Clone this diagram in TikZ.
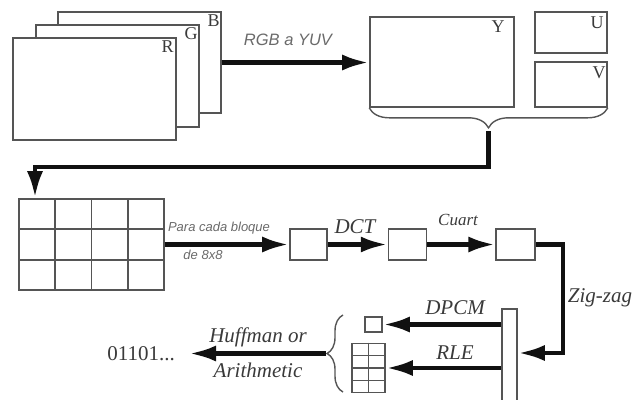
\documentclass[tikz,border=0pt]{standalone}
\usepackage{fontspec}
\setmainfont{Liberation Serif}
\setsansfont{Liberation Sans}
\usepackage{tikz}
\usetikzlibrary{arrows.meta,positioning,calc,decorations.pathreplacing}
\definecolor{jpegInk}{HTML}{111111}
\definecolor{jpegFrame}{HTML}{555555}
\definecolor{jpegText}{HTML}{3A3A3A}
\definecolor{jpegNote}{HTML}{6A6A6A}
\tikzset{
  plane/.style={
    rectangle,
    draw=jpegFrame,
    fill=white,
    line width=1.6pt,
    inner sep=0pt
  },
  cell/.style={
    draw=jpegFrame,
    line width=1.6pt
  },
  chan/.style={
    anchor=north east,
    inner sep=0pt,
    text=jpegText,
    font=\fontsize{18}{20}\selectfont
  },
  stage/.style={
    inner sep=1pt,
    text=jpegText,
    font=\fontsize{21}{23}\selectfont\itshape
  },
  note/.style={
    inner sep=1pt,
    text=jpegNote,
    font=\sffamily\itshape\fontsize{16.5}{18}\selectfont
  },
  smallnote/.style={
    inner sep=1pt,
    text=jpegNote,
    font=\sffamily\itshape\fontsize{13}{15}\selectfont
  },
  flow/.style={
    -{Latex[length=27pt,width=16pt]},
    line width=4.8pt,
    draw=jpegInk
  },
  curly/.style={
    decorate,
    decoration={brace,amplitude=#1},
    draw=jpegFrame,
    line width=1.4pt
  }
}
\begin{document}
\begin{tikzpicture}[x=1pt,y=-1pt]
  \useasboundingbox (0,0) rectangle (634,399);
  % colour planes
  \node[plane,minimum width=163pt,minimum height=101pt] (bplane) at (139.5,62.5) {};
  \node[plane,minimum width=163pt,minimum height=102pt] (gplane) at (117.5,76) {};
  \node[plane,minimum width=163pt,minimum height=102pt] (rplane) at (94.5,89) {};
  \node[chan] (blabel) at ($(bplane.north east)+(-2,3)$) {B};
  \node[chan] (glabel) at ($(gplane.north east)+(-2,3)$) {G};
  \node[chan] (rlabel) at ($(rplane.north east)+(-3,3)$) {R};
  % luma and chroma
  \node[plane,minimum width=144pt,minimum height=90pt] (yplane) at (442,62) {};
  \node[plane,minimum width=72pt,minimum height=41pt] (uplane) at (571,32.5) {};
  \node[plane,minimum width=72pt,minimum height=45pt] (vplane) at (571,84.5) {};
  \node[chan] (ylabel) at ($(yplane.north east)+(-10,4)$) {Y};
  \node[chan] (ulabel) at ($(uplane.north east)+(-4,5)$) {U};
  \node[chan] (vlabel) at ($(vplane.north east)+(-2,5)$) {V};
  \draw[flow] (bplane.east) -- (bplane.east -| yplane.west);
  \node[note] (rgbyuv) at (288,40) {RGB a YUV};
  \draw[curly=20pt] (vplane.south east) -- (yplane.south west);
  \coordinate (yuvtip) at (488.5,131);
  \coordinate (turn) at (35,167);
  % 8x8 blocks
  \node[plane,minimum width=145pt,minimum height=91pt] (blocks) at (91.5,244.5) {};
  \foreach \i in {1,2,3}
    \draw[cell] ($(blocks.north west)!\i/4!(blocks.north east)$) -- ($(blocks.south west)!\i/4!(blocks.south east)$);
  \foreach \j in {1,2}
    \draw[cell] ($(blocks.north west)!\j/3!(blocks.south west)$) -- ($(blocks.north east)!\j/3!(blocks.south east)$);
  \draw[flow] (yuvtip) |- (turn) -- (turn |- blocks.north);
  \node[plane,minimum width=37pt,minimum height=31pt] (block) at (308.5,244.5) {};
  \node[plane,minimum width=38pt,minimum height=31pt,right=60pt of block] (dct) {};
  \node[plane,minimum width=39pt,minimum height=31pt,right=68pt of dct] (quant) {};
  \draw[flow] (blocks.east) -- (block.west);
  \node[smallnote] (para) at (219,228) {Para cada bloque};
  \node[smallnote] (de) at (203,255) {de 8x8};
  \draw[flow] (block) -- (dct);
  \node[stage] (dctlabel) at (355,227) {DCT};
  \draw[flow] (dct) -- (quant);
  \node[stage,font=\fontsize{17}{19}\selectfont\itshape] (cuart) at (458,220) {Cuart};
  % scan and coding
  \node[plane,minimum width=15pt,minimum height=96pt] (scan) at (509.5,357) {};
  \coordinate (zz) at (563,353);
  \draw[flow] (quant.east) -| (zz) -- (zz -| scan.east);
  \node[stage] (zigzag) at (600,298) {Zig-zag};
  \node[plane,minimum width=17pt,minimum height=15pt] (dc) at (373.5,324.5) {};
  \node[plane,minimum width=33pt,minimum height=49pt] (ac) at (368.5,368) {};
  \draw[cell] (ac.north) -- (ac.south);
  \foreach \j in {1,2,3}
    \draw[cell] ($(ac.north west)!\j/4!(ac.south west)$) -- ($(ac.north east)!\j/4!(ac.south east)$);
  \draw[flow] (dc.east -| scan.west) -- (dc.east);
  \draw[flow] (ac.east -| scan.west) -- (ac.east);
  \node[stage] (dpcm) at (455,308) {DPCM};
  \node[stage] (rle) at (455,353) {RLE};
  \coordinate (codebot) at (343,392);
  \coordinate (codetop) at (343,315);
  \draw[curly=16pt] (codebot) -- (codetop);
  \coordinate (codetip) at (326,353.5);
  \node[anchor=east,inner sep=2pt,text=jpegText,font=\fontsize{21}{23}\selectfont] (bits) at (177,353.5) {01101...};
  \draw[flow,shorten >=12pt] (codetip) -- (bits);
  \node[stage] (huff) at (258,337) {Huffman or};
  \node[stage] (arith) at (258,370) {Arithmetic};
\end{tikzpicture}
\end{document}
